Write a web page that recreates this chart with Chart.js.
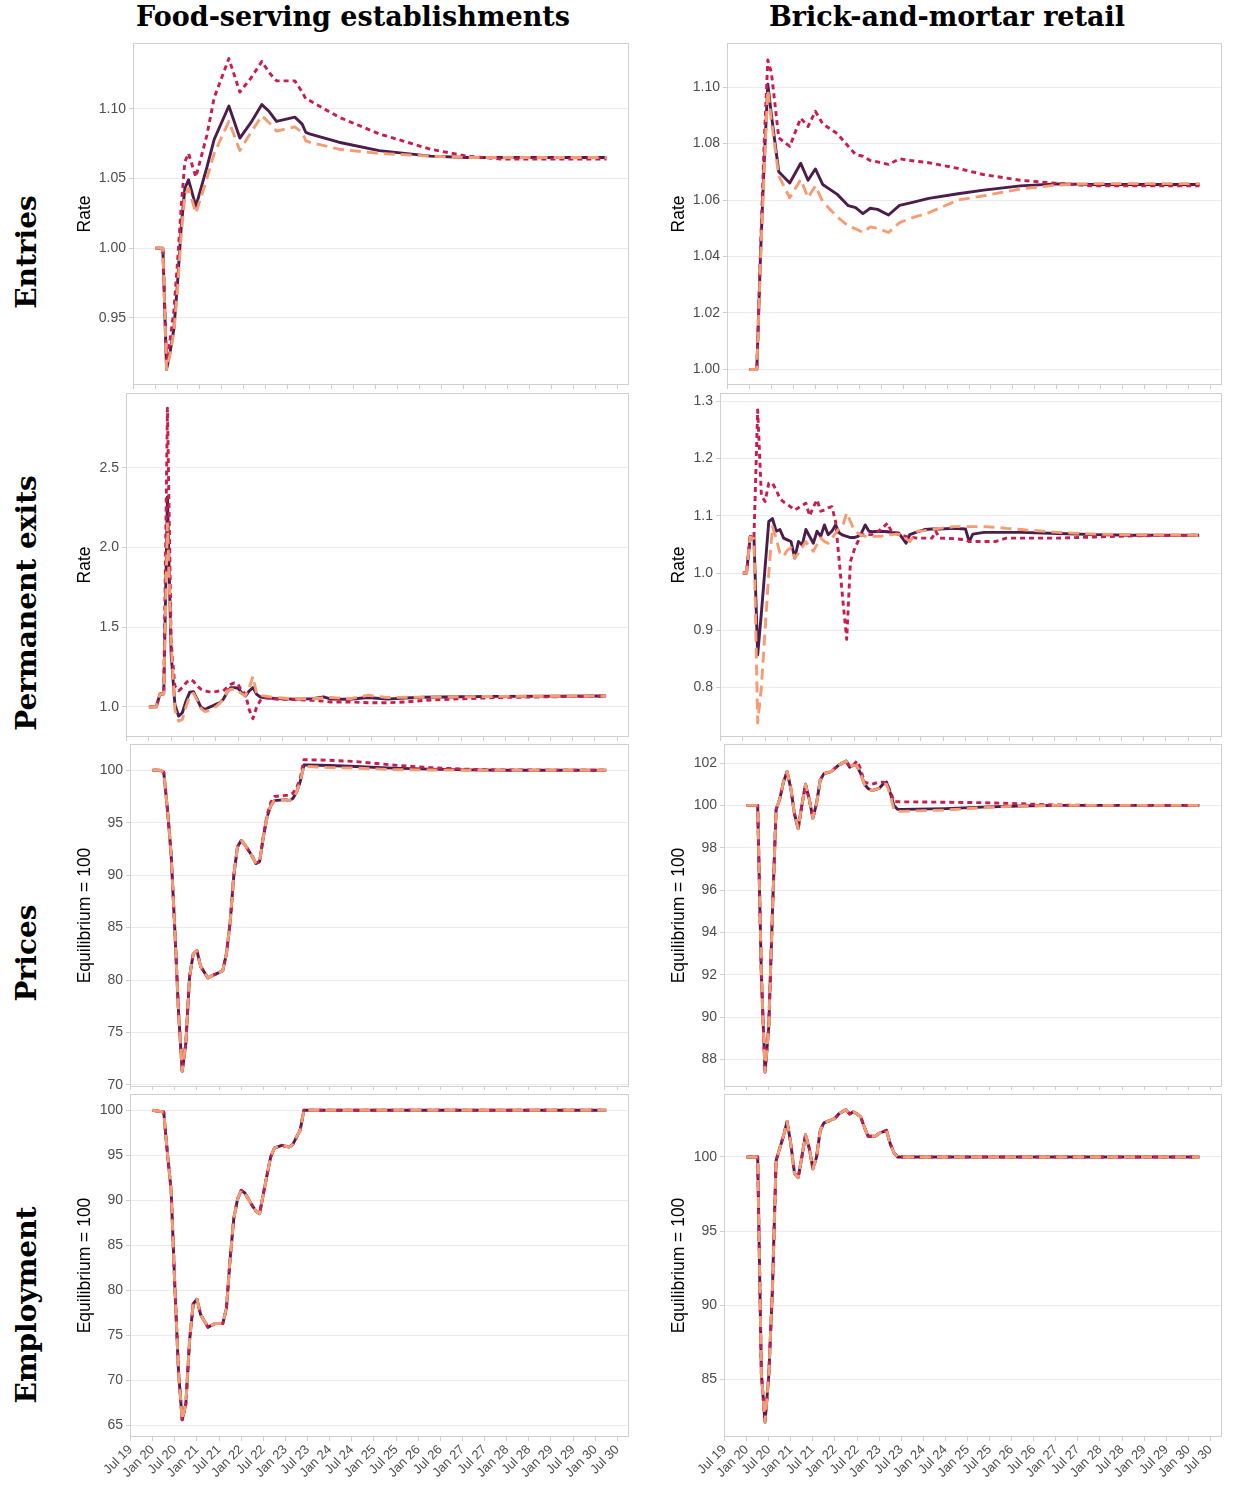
<!DOCTYPE html>
<html>
<head>
<meta charset="utf-8">
<script src="https://cdn.jsdelivr.net/npm/chart.js@4.4.1/dist/chart.umd.min.js"></script>
<style>
  body { margin: 0; background: #fff; width: 1233px; height: 1485px; position: relative; overflow: hidden; }
  canvas.panel { position: absolute; }
  .coltitle { position: absolute; top: 2px; font-family: "DejaVu Serif", serif; font-weight: bold; font-size: 27px; line-height: 30px; transform: translateX(-50%); white-space: nowrap; color: #000; }
  .rowtitle { position: absolute; font-family: "DejaVu Serif", serif; font-weight: bold; font-size: 28px; line-height: 30px; white-space: nowrap; color: #000; transform: translate(-50%, -50%) rotate(-90deg); }
</style>
</head>
<body>
<div class="coltitle" style="left:353px">Food-serving establishments</div>
<div class="coltitle" style="left:947px">Brick-and-mortar retail</div>
<div class="rowtitle" style="left:27px; top:252px">Entries</div>
<div class="rowtitle" style="left:27px; top:603px">Permanent exits</div>
<div class="rowtitle" style="left:27px; top:953px">Prices</div>
<div class="rowtitle" style="left:27px; top:1305px">Employment</div>

<script>
// x values are months counted from Jul 2019 (= 0); Jan 2020 = 6, Apr 2030 = 129
var xTickMonths = [0, 6, 12, 18, 24, 30, 36, 42, 48, 54, 60, 66, 72, 78, 84, 90, 96, 102, 108, 114, 120, 126, 132];
var xTickLabels = ["Jul 19", "Jan 20", "Jul 20", "Jan 21", "Jul 21", "Jan 22", "Jul 22", "Jan 23", "Jul 23", "Jan 24", "Jul 24", "Jan 25",
    "Jul 25", "Jan 26", "Jul 26", "Jan 27", "Jul 27", "Jan 28", "Jul 28", "Jan 29", "Jul 29", "Jan 30", "Jul 30"];

// Entries - food-serving
var entFoodMonths = [6, 8, 9, 10, 11, 12, 13, 14, 15, 17, 20, 22, 26, 29, 32, 35, 37, 39, 44, 46, 47, 48, 56, 67, 81, 91, 100, 129];
var entFoodSolid = [1.000, 1.000, 0.913, 0.926, 0.942, 0.975, 1.015, 1.043, 1.049, 1.030, 1.058, 1.078, 1.102, 1.079, 1.090, 1.103, 1.098, 1.091, 1.094, 1.089, 1.083, 1.082, 1.076, 1.070, 1.066, 1.065, 1.065, 1.065];
var entFoodDotted = [1.000, 1.000, 0.918, 0.935, 0.955, 0.990, 1.030, 1.062, 1.068, 1.051, 1.081, 1.108, 1.136, 1.112, 1.122, 1.134, 1.126, 1.120, 1.120, 1.112, 1.107, 1.106, 1.094, 1.082, 1.071, 1.066, 1.064, 1.064];
var entFoodDashed = [1.000, 1.000, 0.913, 0.924, 0.940, 0.970, 1.010, 1.038, 1.043, 1.025, 1.050, 1.068, 1.091, 1.070, 1.083, 1.095, 1.090, 1.084, 1.087, 1.083, 1.077, 1.076, 1.071, 1.068, 1.066, 1.065, 1.065, 1.065];

// Entries - retail
var entRetMonths = [6, 8, 9, 10, 11, 12, 14, 17, 20, 22, 24, 26, 30, 33, 35, 37, 39, 41, 44, 47, 50, 55, 63, 70, 80, 90, 100, 129];
var entRetSolid = [1.000, 1.000, 1.040, 1.073, 1.101, 1.090, 1.070, 1.066, 1.073, 1.067, 1.071, 1.0655, 1.062, 1.058, 1.0573, 1.0552, 1.0571, 1.0567, 1.0547, 1.0581, 1.0590, 1.0606, 1.0622, 1.0635, 1.0650, 1.0657, 1.0655, 1.0655];
var entRetDotted = [1.000, 1.000, 1.042, 1.080, 1.1096, 1.105, 1.082, 1.079, 1.089, 1.086, 1.0914, 1.087, 1.0835, 1.079, 1.0761, 1.0755, 1.074, 1.0735, 1.0726, 1.0746, 1.074, 1.0732, 1.0712, 1.069, 1.067, 1.0659, 1.065, 1.065];
var entRetDashed = [1.000, 1.000, 1.038, 1.070, 1.099, 1.088, 1.0685, 1.0608, 1.0673, 1.0608, 1.065, 1.0595, 1.054, 1.0508, 1.0498, 1.0485, 1.0505, 1.050, 1.0485, 1.052, 1.0535, 1.0555, 1.060, 1.0615, 1.0639, 1.0653, 1.0658, 1.0658];

// Permanent exits - food-serving
var exFoodMonths = [6, 8, 9, 10, 11, 12, 13, 14, 15, 16, 17, 18, 19, 20, 21, 22, 23, 24, 25, 26, 27, 28, 29, 30, 31, 32, 33, 34, 35, 36, 37,
    40, 45, 50, 53, 55, 60, 65, 70, 75, 80, 90, 100, 129];
var exFoodSolid = [1.0, 1.0, 1.08, 1.08, 2.317, 1.33, 1.015, 0.941, 0.962, 1.036, 1.092, 1.095, 1.046, 0.998, 0.983, 0.994, 1.004, 1.015, 1.025, 1.046, 1.088, 1.12, 1.12, 1.116, 1.088, 1.067, 1.099, 1.12, 1.078, 1.061, 1.057,
    1.052, 1.048, 1.050, 1.062, 1.048, 1.047, 1.058, 1.048, 1.055, 1.060, 1.063, 1.065, 1.067];
var exFoodDotted = [1.0, 1.0, 1.08, 1.08, 2.874, 1.40, 1.13, 1.10, 1.12, 1.15, 1.17, 1.16, 1.13, 1.11, 1.10, 1.095, 1.09, 1.095, 1.10, 1.10, 1.12, 1.14, 1.15, 1.14, 1.10, 1.08, 0.98, 0.925, 1.00, 1.04, 1.057,
    1.048, 1.045, 1.040, 1.035, 1.030, 1.030, 1.025, 1.025, 1.030, 1.040, 1.050, 1.058, 1.067];
var exFoodDashed = [1.0, 1.0, 1.08, 1.08, 2.15, 1.40, 0.98, 0.91, 0.92, 1.00, 1.07, 1.085, 1.04, 0.99, 0.97, 0.975, 0.99, 1.0, 1.02, 1.05, 1.09, 1.11, 1.11, 1.10, 1.08, 1.07, 1.12, 1.19, 1.08, 1.07, 1.068,
    1.058, 1.050, 1.050, 1.055, 1.058, 1.050, 1.072, 1.058, 1.060, 1.060, 1.063, 1.065, 1.067];

// Permanent exits - retail
var exRetMonths = [6, 7, 8, 9, 10, 11, 12, 13, 14, 15, 16, 17, 18, 19, 20, 21, 22, 23, 24, 25, 26, 27, 28, 29, 30, 31, 32, 33, 34, 35, 36, 37, 38, 39, 40, 41,
    43, 45, 46, 48, 50, 51, 53, 55, 57, 58, 59, 63, 66, 67, 68, 71, 74, 77, 81, 91, 101, 111, 129];
var exRetSolid = [1.000, 1.000, 1.064, 1.062, 0.857, 0.930, 1.010, 1.090, 1.095, 1.073, 1.076, 1.061, 1.058, 1.055, 1.026, 1.055, 1.049, 1.076, 1.064, 1.052, 1.073, 1.064, 1.084, 1.067, 1.073, 1.084, 1.070, 1.066, 1.064, 1.062, 1.062, 1.064, 1.070, 1.084, 1.073, 1.072,
    1.073, 1.072, 1.071, 1.070, 1.052, 1.067, 1.072, 1.076, 1.077, 1.077, 1.077, 1.078, 1.077, 1.055, 1.068, 1.071, 1.071, 1.071, 1.071, 1.069, 1.067, 1.066, 1.066];
var exRetDotted = [1.000, 1.000, 1.064, 1.062, 1.285, 1.135, 1.125, 1.157, 1.157, 1.145, 1.130, 1.124, 1.120, 1.115, 1.110, 1.114, 1.118, 1.122, 1.100, 1.115, 1.128, 1.108, 1.110, 1.114, 1.116, 1.090, 1.020, 0.950, 0.884, 1.020, 1.040, 1.055, 1.067, 1.067, 1.067, 1.067,
    1.075, 1.087, 1.073, 1.067, 1.064, 1.063, 1.061, 1.061, 1.061, 1.073, 1.061, 1.060, 1.058, 1.055, 1.055, 1.055, 1.055, 1.061, 1.061, 1.061, 1.063, 1.065, 1.066];
var exRetDashed = [1.000, 1.000, 1.063, 1.060, 0.738, 0.800, 0.900, 1.000, 1.081, 1.060, 1.035, 1.029, 1.040, 1.044, 1.026, 1.035, 1.045, 1.055, 1.045, 1.038, 1.050, 1.061, 1.055, 1.052, 1.060, 1.070, 1.078, 1.084, 1.105, 1.090, 1.075, 1.070, 1.066, 1.064, 1.064, 1.064,
    1.064, 1.066, 1.067, 1.068, 1.060, 1.055, 1.073, 1.074, 1.076, 1.077, 1.078, 1.081, 1.081, 1.081, 1.081, 1.081, 1.080, 1.078, 1.076, 1.071, 1.068, 1.067, 1.066];

// Prices - food-serving
var priceFoodMonths = [6, 8, 9, 10, 11, 12, 13, 14, 15, 16, 17, 18, 19, 21, 22, 24, 25, 26, 27, 28, 29, 30, 31, 33, 34, 35, 36, 37, 38, 39,
    42, 43, 44, 45, 46, 47, 48, 54, 61, 71, 81, 91, 101, 129];
var priceFoodSolid = [100, 100, 99.8, 96.3, 92.0, 84.8, 77.0, 71.3, 74.0, 80.3, 82.5, 82.8, 81.3, 80.2, 80.4, 80.7, 80.9, 82.5, 85.5, 90.0, 92.7, 93.3, 92.9, 91.8, 91.1, 91.3, 93.6, 95.5, 96.6, 97.1,
    97.2, 97.1, 97.3, 97.9, 98.9, 100.5, 100.5, 100.45, 100.35, 100.2, 100.1, 100.03, 100.0, 100.0];
var priceFoodDotted = [100, 100, 99.8, 96.3, 92.0, 84.8, 77.0, 71.3, 74.0, 80.3, 82.5, 82.8, 81.3, 80.2, 80.4, 80.7, 80.9, 82.5, 85.5, 90.0, 92.7, 93.3, 92.9, 91.8, 91.1, 91.3, 93.7, 95.7, 96.9, 97.5,
    97.6, 97.6, 97.8, 98.3, 99.2, 101.0, 101.0, 100.95, 100.83, 100.5, 100.25, 100.1, 100.02, 100.0];
var priceFoodDashed = [100, 100, 99.8, 96.3, 92.0, 84.8, 77.0, 71.3, 74.0, 80.3, 82.5, 82.8, 81.3, 80.2, 80.4, 80.7, 80.9, 82.5, 85.5, 90.0, 92.7, 93.3, 92.9, 91.8, 91.1, 91.3, 93.6, 95.5, 96.6, 97.1,
    97.2, 97.1, 97.3, 97.9, 98.9, 100.4, 100.35, 100.25, 100.2, 100.06, 100.02, 100.0, 100.0, 100.0];

// Prices - retail
var priceRetMonths = [6, 9, 10, 11, 12, 13, 14, 15, 16, 17, 18, 19, 20, 21, 22, 23, 24, 25, 26, 27, 29, 31, 33, 34, 35, 36, 37, 38, 39, 40,
    42, 43, 44, 45, 46, 47, 48, 60, 70, 80, 90, 100, 129];
var priceRetSolid = [100, 100, 92.0, 87.4, 89.5, 94.9, 99.8, 100.3, 101.1, 101.6, 100.8, 99.6, 98.9, 100.0, 101.0, 100.3, 99.4, 100.1, 101.2, 101.5, 101.6, 101.9, 102.1, 101.8, 101.9, 101.85, 101.5, 101.0, 100.8, 100.7,
    100.8, 101.0, 101.1, 100.6, 100.0, 99.82, 99.81, 99.85, 99.92, 99.97, 100.0, 100.0, 100.0];
var priceRetDotted = [100, 100, 92.0, 87.4, 89.5, 94.9, 99.8, 100.3, 101.1, 101.6, 100.8, 99.6, 98.9, 100.0, 101.0, 100.3, 99.4, 100.1, 101.2, 101.5, 101.6, 101.9, 102.1, 101.85, 101.9, 102.1, 101.7, 101.1, 101.05, 101.0,
    101.1, 101.1, 101.07, 100.7, 100.2, 100.17, 100.17, 100.15, 100.13, 100.08, 100.02, 100.0, 100.0];
var priceRetDashed = [100, 100, 92.0, 87.4, 89.5, 94.9, 99.8, 100.3, 101.1, 101.6, 100.8, 99.6, 98.9, 100.0, 101.0, 100.3, 99.4, 100.1, 101.2, 101.5, 101.6, 101.9, 102.1, 101.8, 101.9, 101.85, 101.5, 101.0, 100.8, 100.7,
    100.8, 101.0, 101.0, 100.5, 99.8, 99.73, 99.72, 99.78, 99.89, 99.97, 100.0, 100.0, 100.0];

// Employment - the three series coincide in both sectors
var empFoodMonths = [6, 9, 10, 11, 12, 13, 14, 15, 16, 17, 18, 19, 21, 23, 25, 26, 27, 28, 29, 30, 31, 33, 34, 35, 36, 37, 38, 39, 41, 43, 44, 45, 46, 47, 129];
var empFood = [100, 99.8, 95.2, 91.1, 80.5, 71.0, 65.6, 67.4, 74.4, 78.5, 79.0, 77.3, 75.9, 76.3, 76.3, 78.0, 83.5, 88.0, 90.1, 91.1, 90.8, 89.4, 88.8, 88.5, 90.7, 92.8, 94.8, 95.8, 96.1, 95.9, 96.2, 97.0, 97.8, 100.0, 100.0];
var empRetMonths = [6, 9, 10, 11, 12, 13, 14, 15, 16, 17, 18, 19, 20, 21, 22, 23, 24, 25, 26, 27, 29, 30, 31, 33, 34, 35, 36, 37, 38, 39, 41, 42, 44, 45, 46, 47, 129];
var empRet = [100, 100, 85.4, 82.1, 85.2, 91.0, 99.75, 100.6, 101.4, 102.4, 100.9, 98.9, 98.6, 100.0, 101.5, 100.6, 99.2, 100.0, 101.8, 102.3, 102.5, 102.6, 102.9, 103.2, 102.9, 103.05, 102.9, 102.7, 102.0, 101.4, 101.4, 101.6, 101.8, 100.9, 100.3, 100.0, 100.0];

var DARK = "#4C1D4B";
var CRIMSON = "#CB1B4F";
var SALMON = "#F69C73";
var TICK_GREY = "#4d4d4d";
var LINE_GREY = "#d0d0d0";

// panels: position of each canvas and the size of its axes
var panels = [
    { x: 75, y: 40, w: 555, h: 350, yw: 58, xh: 5, showX: false, months: entFoodMonths, solid: entFoodSolid, dotted: entFoodDotted, dashed: entFoodDashed,
        yMin: 0.9018, yMax: 1.1472, yTicks: [0.95, 1.00, 1.05, 1.10], dec: 2, title: "Rate" },
    { x: 669, y: 40, w: 554, h: 350, yw: 58, xh: 5, showX: false, months: entRetMonths, solid: entRetSolid, dotted: entRetDotted, dashed: entRetDashed,
        yMin: 0.9945, yMax: 1.1156, yTicks: [1.00, 1.02, 1.04, 1.06, 1.08, 1.10], dec: 2, title: "Rate" },
    { x: 75, y: 390, w: 555, h: 352, yw: 51, xh: 5, showX: false, months: exFoodMonths, solid: exFoodSolid, dotted: exFoodDotted, dashed: exFoodDashed,
        yMin: 0.81, yMax: 2.97, yTicks: [1.0, 1.5, 2.0, 2.5], dec: 1, title: "Rate" },
    { x: 669, y: 390, w: 554, h: 352, yw: 51, xh: 5, showX: false, months: exRetMonths, solid: exRetSolid, dotted: exRetDotted, dashed: exRetDashed,
        yMin: 0.7135, yMax: 1.3145, yTicks: [0.8, 0.9, 1.0, 1.1, 1.2, 1.3], dec: 1, title: "Rate" },
    { x: 75, y: 741, w: 555, h: 349, yw: 55, xh: 3, showX: false, months: priceFoodMonths, solid: priceFoodSolid, dotted: priceFoodDotted, dashed: priceFoodDashed,
        yMin: 69.8, yMax: 102.5, yTicks: [70, 75, 80, 85, 90, 95, 100], dec: 0, title: "Equilibrium = 100" },
    { x: 669, y: 741, w: 554, h: 349, yw: 55, xh: 3, showX: false, months: priceRetMonths, solid: priceRetSolid, dotted: priceRetDotted, dashed: priceRetDashed,
        yMin: 86.7, yMax: 102.9, yTicks: [88, 90, 92, 94, 96, 98, 100, 102], dec: 0, title: "Equilibrium = 100" },
    { x: 75, y: 1091, w: 555, h: 394, yw: 55, xh: 48, showX: true, months: empFoodMonths, solid: empFood, dotted: empFood, dashed: empFood,
        yMin: 63.7, yMax: 101.8, yTicks: [65, 70, 75, 80, 85, 90, 95, 100], dec: 0, title: "Equilibrium = 100" },
    { x: 669, y: 1091, w: 554, h: 394, yw: 55, xh: 48, showX: true, months: empRetMonths, solid: empRet, dotted: empRet, dashed: empRet,
        yMin: 81.1, yMax: 104.25, yTicks: [85, 90, 95, 100], dec: 0, title: "Equilibrium = 100" }
];

// light grey frame round the plotting area
var boxPlugin = {
    id: "panelBox",
    beforeDatasetsDraw: function (chart) {
        var a = chart.chartArea, c = chart.ctx;
        c.save();
        c.strokeStyle = LINE_GREY;
        c.lineWidth = 1;
        c.strokeRect(a.left + 0.5, a.top + 0.5, a.right - a.left - 1, a.bottom - a.top - 1);
        c.restore();
    }
};

function makePanel(p) {
    var canvas = document.createElement("canvas");
    canvas.className = "panel";
    canvas.width = p.w;
    canvas.height = p.h;
    canvas.style.left = p.x + "px";
    canvas.style.top = p.y + "px";
    document.body.appendChild(canvas);

    var toPoints = function (values) {
        return p.months.map(function (m, i) { return { x: m, y: values[i] }; });
    };

    new Chart(canvas.getContext("2d"), {
        type: "line",
        data: {
            // first dataset is drawn on top
            datasets: [
                { label: "dashed", data: toPoints(p.dashed), borderColor: SALMON, borderDash: [11, 6] },
                { label: "dotted", data: toPoints(p.dotted), borderColor: CRIMSON, borderDash: [5, 4] },
                { label: "solid", data: toPoints(p.solid), borderColor: DARK }
            ]
        },
        options: {
            responsive: false,
            animation: false,
            devicePixelRatio: 1,
            layout: { padding: { top: 3, right: 1, left: 0, bottom: 0 } },
            plugins: { legend: { display: false }, tooltip: { enabled: false } },
            elements: {
                point: { radius: 0 },
                line: { tension: 0, borderWidth: 2.9, borderCapStyle: "butt", borderJoinStyle: "round", fill: false }
            },
            scales: {
                x: {
                    type: "linear",
                    min: -0.15,
                    max: 135.15,
                    afterBuildTicks: function (s) { s.ticks = xTickMonths.map(function (v) { return { value: v }; }); },
                    afterFit: function (s) { s.height = p.xh; s.paddingLeft = 0; s.paddingRight = 0; },
                    grid: { drawOnChartArea: false, drawTicks: true, tickLength: 4, tickColor: LINE_GREY },
                    border: { display: false },
                    ticks: {
                        display: p.showX,
                        autoSkip: false,
                        minRotation: 45,
                        maxRotation: 45,
                        padding: 1,
                        color: TICK_GREY,
                        font: { family: "Liberation Sans", size: 13 },
                        callback: function (v) {
                            var i = xTickMonths.indexOf(v);
                            return i >= 0 ? xTickLabels[i] : "";
                        }
                    }
                },
                y: {
                    min: p.yMin,
                    max: p.yMax,
                    afterBuildTicks: function (s) { s.ticks = p.yTicks.map(function (v) { return { value: v }; }); },
                    afterFit: function (s) { s.width = p.yw; s.paddingTop = 0; s.paddingBottom = 0; },
                    grid: { color: "#ebebeb", lineWidth: 1, drawTicks: true, tickLength: 4, tickColor: LINE_GREY },
                    border: { display: false },
                    ticks: {
                        color: TICK_GREY,
                        padding: 3,
                        font: { family: "Liberation Sans", size: 14 },
                        callback: function (v) { return Number(v).toFixed(p.dec); }
                    },
                    title: { display: true, text: p.title, color: "#000", padding: 0, font: { family: "Liberation Sans", size: 17.5 } }
                }
            }
        },
        plugins: [boxPlugin]
    });
}

document.addEventListener("DOMContentLoaded", function () {
    panels.forEach(makePanel);
});
</script>
</body>
</html>
